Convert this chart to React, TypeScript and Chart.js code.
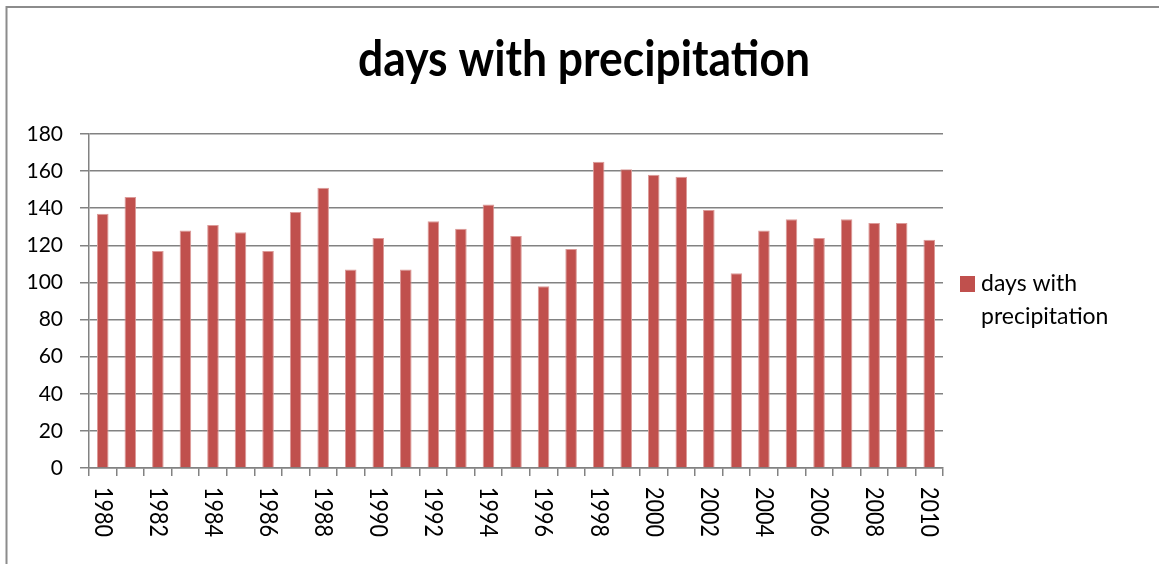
import React, { useEffect, useRef } from "react";
import { Chart, registerables } from "chart.js";

Chart.register(...registerables);

const TITLE = "days with precipitation";
const SERIES_LABEL = "days with precipitation";
const LEGEND_LINES = ["days with", "precipitation"];
const years = [
  "1980", "1981", "1982", "1983", "1984", "1985", "1986", "1987", "1988", "1989",
  "1990", "1991", "1992", "1993", "1994", "1995", "1996", "1997", "1998", "1999",
  "2000", "2001", "2002", "2003", "2004", "2005", "2006", "2007", "2008", "2009",
  "2010",
];
const values = [
  137, 146, 117, 128, 131, 127, 117, 138, 151, 107,
  124, 107, 133, 129, 142, 125, 98, 118, 165, 161,
  158, 157, 139, 105, 128, 134, 124, 134, 132, 132,
  123,
];
const Y_MIN = 0;
const Y_MAX = 180;
const Y_STEP = 20;

const BAR_COLOR = "#C0504D";
const GRID_COLOR = "#828282";

const decorPlugin = {
  id: "decor",
  afterDraw(chart: any) {
    const ctx = chart.ctx as CanvasRenderingContext2D;
    ctx.save();
    // outer frame
    ctx.strokeStyle = "#8c8c8c";
    ctx.lineWidth = 2;
    ctx.strokeRect(6.5, 7, 1180, 600);

    // title
    ctx.fillStyle = "#000";
    ctx.font = "bold 50px Lato";
    const w = ctx.measureText(TITLE).width;
    const sx = 452 / w;
    ctx.save();
    ctx.translate(584, 76);
    ctx.scale(sx, 1);
    ctx.textAlign = "center";
    ctx.textBaseline = "alphabetic";
    ctx.fillText(TITLE, 0, 0);
    ctx.restore();

    // legend
    ctx.fillStyle = BAR_COLOR;
    ctx.fillRect(960, 276, 15, 16);
    ctx.fillStyle = "#000";
    ctx.font = "23px Lato";
    ctx.textAlign = "left";
    ctx.textBaseline = "alphabetic";
    ctx.fillText(LEGEND_LINES[0], 981, 291);
    ctx.fillText(LEGEND_LINES[1], 981, 324);

    // rotated x labels (every second year)
    const xs = chart.scales.x;
    ctx.font = "25px Lato";
    ctx.textBaseline = "middle";
    ctx.textAlign = "left";
    years.forEach((y, i) => {
      if (i % 2 !== 0) return;
      const x = xs.getPixelForValue(i);
      const tw = ctx.measureText(y).width;
      ctx.save();
      ctx.translate(x, 487);
      ctx.rotate(Math.PI / 2);
      ctx.scale(50 / tw, 1);
      ctx.fillText(y, 0, 0);
      ctx.restore();
    });
    ctx.restore();
  },
};

export default function App() {
  const ref = useRef<HTMLCanvasElement | null>(null);
  useEffect(() => {
    if (!ref.current) return;
    const chart = new Chart(ref.current, {
      type: "bar",
      data: {
        labels: years,
        datasets: [
          {
            label: SERIES_LABEL,
            data: values,
            backgroundColor: BAR_COLOR,
            borderColor: "#dc9a98",
            borderWidth: { left: 1, right: 1, top: 1, bottom: 0 },
            borderSkipped: "bottom",
            barPercentage: 0.42,
            categoryPercentage: 1,
          },
        ],
      },
      options: {
        responsive: false,
        animation: false,
        layout: { padding: { left: 0, top: 134, right: 216, bottom: 0 } },
        plugins: {
          legend: { display: false },
          title: { display: false },
          tooltip: { enabled: false },
        },
        scales: {
          x: {
            offset: true,
            grid: {
              offset: true,
              display: true,
              drawOnChartArea: false,
              drawTicks: true,
              tickLength: 8,
              color: GRID_COLOR,
              lineWidth: 1.5,
            },
            border: { display: true, color: GRID_COLOR, width: 1.5 },
            ticks: { display: false, autoSkip: false },
            afterFit: (s: any) => {
              s.height = 96;
            },
          },
          y: {
            min: Y_MIN,
            max: Y_MAX,
            grid: {
              color: GRID_COLOR,
              lineWidth: 1.5,
              drawTicks: true,
              tickLength: 9,
            },
            border: { display: true, color: GRID_COLOR, width: 1.5 },
            ticks: {
              stepSize: Y_STEP,
              color: "#000",
              font: { family: "Lato", size: 21 },
              padding: 17,
            },
            afterFit: (s: any) => {
              s.width = 89;
            },
          },
        },
      },
      plugins: [decorPlugin],
    });
    return () => chart.destroy();
  }, []);
  return (
    <div style={{ position: "absolute", left: 0, top: 0, width: 1159, height: 564, background: "#fff" }}>
      <canvas ref={ref} width={1159} height={564} style={{ display: "block" }} />
    </div>
  );
}
